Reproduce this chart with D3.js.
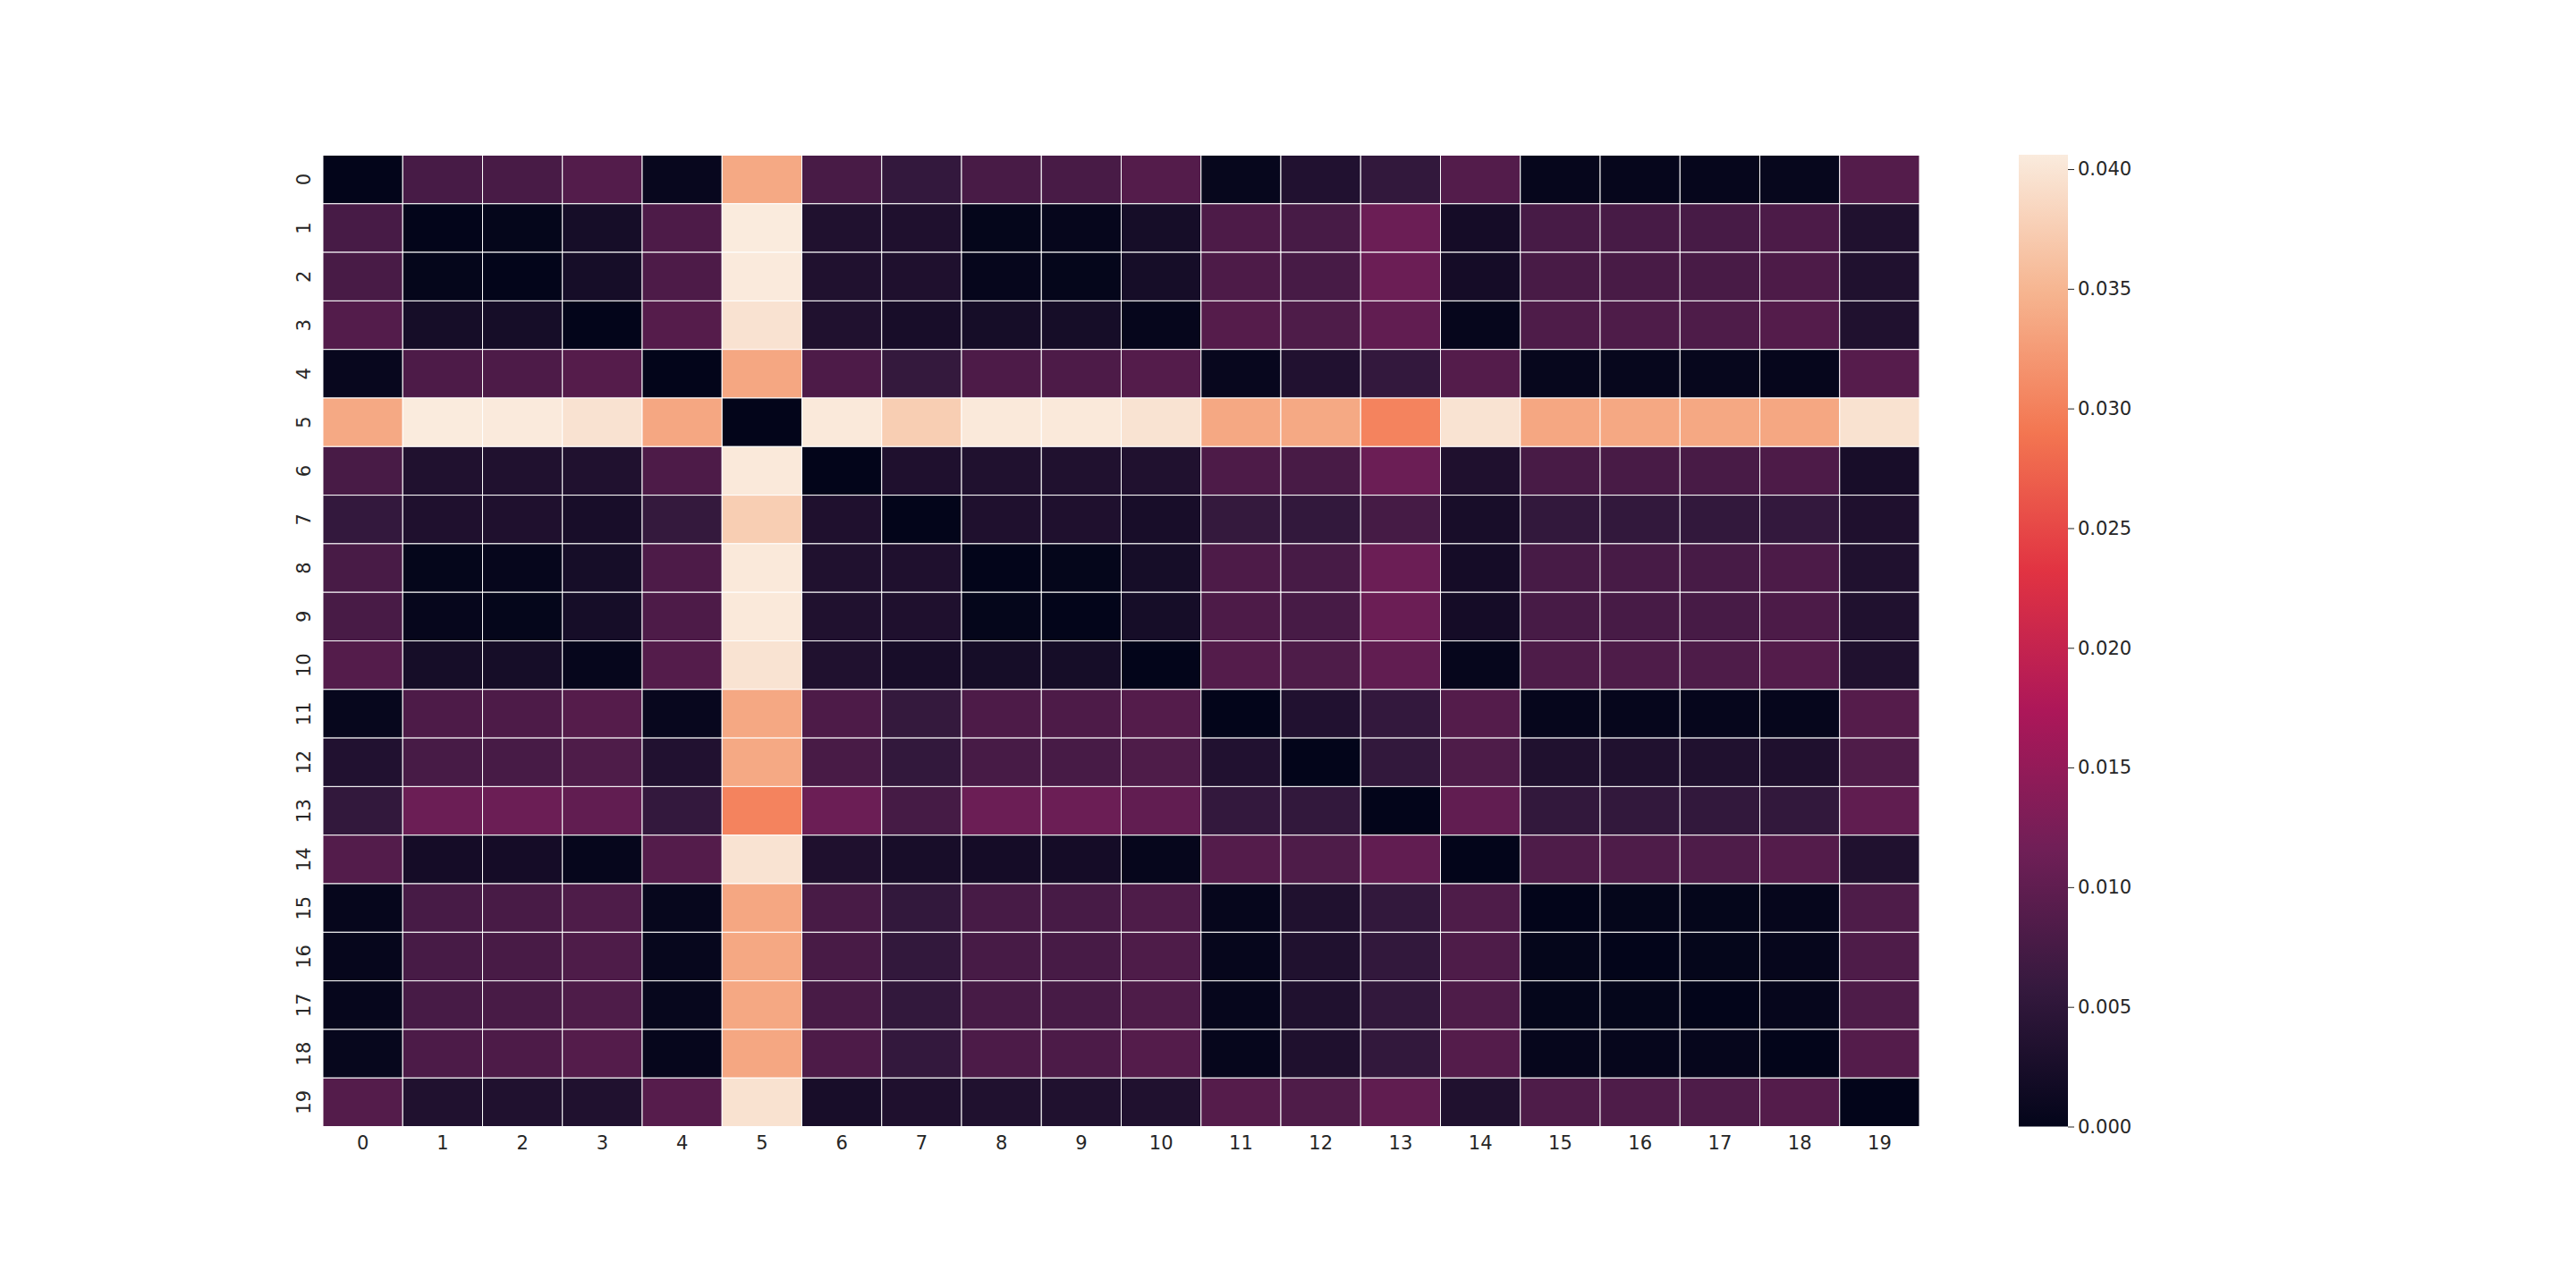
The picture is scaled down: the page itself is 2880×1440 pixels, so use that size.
<!DOCTYPE html>
<html>
<head>
<meta charset="utf-8">
<script src="https://cdn.jsdelivr.net/npm/d3@7"></script>
<style>
body { margin: 0; background: #fff; }
text { font-family: "DejaVu Sans", sans-serif; }
</style>
</head>
<body>
<svg id="chart" width="2880" height="1440"></svg>
<script>
// labels for both axes
const labels = ["0","1","2","3","4","5","6","7","8","9","10","11","12","13","14","15","16","17","18","19"];

// pairwise values (symmetric, zero diagonal)
const values = [
  [0, .0076, .0077, .0087, .0006, .0338, .0077, .0056, .0077, .0077, .0088, .0005, .0035, .0055, .0087, .0003, .0003, .0004, .0005, .0088],
  [.0076, 0, .0002, .0022, .0082, .0406, .0034, .0033, .0002, .0003, .0022, .0082, .0076, .0111, .0021, .0076, .0076, .0076, .0081, .0034],
  [.0077, .0002, 0, .0022, .0082, .0405, .0034, .0033, .0003, .0002, .0022, .0082, .0076, .0111, .0021, .0077, .0077, .0077, .0082, .0034],
  [.0087, .0022, .0022, 0, .0089, .0397, .0034, .0024, .0022, .0022, .0004, .0089, .0083, .0101, .0004, .0083, .0083, .0083, .0088, .0034],
  [.0006, .0082, .0082, .0089, 0, .0336, .0082, .0057, .0082, .0082, .0088, .0006, .0035, .0056, .0088, .0005, .0005, .0005, .0004, .0090],
  [.0338, .0406, .0405, .0397, .0336, 0, .0404, .0375, .0404, .0404, .0398, .0337, .0338, .0302, .0398, .0336, .0337, .0337, .0336, .0396],
  [.0077, .0034, .0034, .0034, .0082, .0404, 0, .0033, .0034, .0034, .0034, .0082, .0077, .0111, .0033, .0077, .0077, .0077, .0082, .0024],
  [.0056, .0033, .0033, .0024, .0057, .0375, .0033, 0, .0033, .0033, .0024, .0057, .0054, .0074, .0024, .0055, .0055, .0055, .0056, .0033],
  [.0077, .0002, .0003, .0022, .0082, .0404, .0034, .0033, 0, .0002, .0022, .0082, .0076, .0111, .0021, .0076, .0076, .0076, .0081, .0034],
  [.0077, .0003, .0002, .0022, .0082, .0404, .0034, .0033, .0002, 0, .0022, .0082, .0076, .0111, .0021, .0076, .0076, .0076, .0081, .0034],
  [.0088, .0022, .0022, .0004, .0088, .0398, .0034, .0024, .0022, .0022, 0, .0088, .0083, .0101, .0004, .0083, .0083, .0083, .0088, .0034],
  [.0005, .0082, .0082, .0089, .0006, .0337, .0082, .0057, .0082, .0082, .0088, 0, .0035, .0056, .0088, .0004, .0004, .0004, .0004, .0089],
  [.0035, .0076, .0076, .0083, .0035, .0338, .0077, .0054, .0076, .0076, .0083, .0035, 0, .0055, .0083, .0034, .0034, .0034, .0033, .0084],
  [.0055, .0111, .0111, .0101, .0056, .0302, .0111, .0074, .0111, .0111, .0101, .0056, .0055, 0, .0101, .0055, .0055, .0055, .0055, .0100],
  [.0087, .0021, .0021, .0004, .0088, .0398, .0033, .0024, .0021, .0021, .0004, .0088, .0083, .0101, 0, .0083, .0083, .0083, .0088, .0034],
  [.0003, .0076, .0077, .0083, .0005, .0336, .0077, .0055, .0076, .0076, .0083, .0004, .0034, .0055, .0083, 0, .0002, .0002, .0003, .0083],
  [.0003, .0076, .0077, .0083, .0005, .0337, .0077, .0055, .0076, .0076, .0083, .0004, .0034, .0055, .0083, .0002, 0, .0002, .0003, .0083],
  [.0004, .0076, .0077, .0083, .0005, .0337, .0077, .0055, .0076, .0076, .0083, .0004, .0034, .0055, .0083, .0002, .0002, 0, .0003, .0083],
  [.0005, .0081, .0082, .0088, .0004, .0336, .0082, .0056, .0081, .0081, .0088, .0004, .0033, .0055, .0088, .0003, .0003, .0003, 0, .0088],
  [.0088, .0034, .0034, .0034, .0090, .0396, .0024, .0033, .0034, .0034, .0034, .0089, .0084, .0100, .0034, .0083, .0083, .0083, .0088, 0]
];

const cbarTicks = [0, 0.005, 0.010, 0.015, 0.020, 0.025, 0.030, 0.035, 0.040];

// seaborn "rocket" colours, evenly spaced
const rocket = ["#03051a", "#35193e", "#701f57", "#ad1759", "#e13342", "#f37651", "#f6b48f", "#faebdd"];

const vmin = 0, vmax = d3.max(values, r => d3.max(r));
const textColor = "#262626";

const svg = d3.select("#chart");
const plotLeft = 361, plotRight = 2146, plotTop = 173.5, plotBottom = 1259.5;

const x = d3.scaleBand().domain(labels).range([plotLeft, plotRight]).padding(0);
const y = d3.scaleBand().domain(labels).range([plotTop, plotBottom]).padding(0);

const color = d3.scaleLinear()
  .domain(rocket.map((c, i) => vmin + (vmax - vmin) * i / (rocket.length - 1)))
  .range(rocket)
  .interpolate(d3.interpolateRgb)
  .clamp(true);

const cells = [];
values.forEach((row, i) => row.forEach((v, j) => cells.push({row: labels[i], col: labels[j], v: v})));

svg.append("g").selectAll("rect")
  .data(cells)
  .enter().append("rect")
    .attr("x", d => x(d.col))
    .attr("y", d => y(d.row))
    .attr("width", x.bandwidth())
    .attr("height", y.bandwidth())
    .attr("fill", d => color(d.v))
    .attr("stroke", "#fff")
    .attr("stroke-width", 1);

// x axis
const gx = svg.append("g")
  .attr("transform", `translate(0,${plotBottom})`)
  .call(d3.axisBottom(x).tickSize(0).tickPadding(11));
gx.select(".domain").remove();
gx.selectAll("text").style("font-size", "21px").attr("fill", textColor);

// y axis, labels turned
const gy = svg.append("g")
  .attr("transform", `translate(${plotLeft},0)`)
  .call(d3.axisLeft(y).tickSize(0));
gy.select(".domain").remove();
gy.selectAll("text")
  .style("font-size", "21px")
  .attr("fill", textColor)
  .attr("x", 0)
  .attr("dy", 0)
  .attr("text-anchor", "middle")
  .attr("transform", "translate(-14,0) rotate(-90)");

// colorbar
const cbX = 2257, cbW = 55;
const cy = d3.scaleLinear().domain([vmin, vmax]).range([plotBottom, 173]);

const grad = svg.append("defs").append("linearGradient")
  .attr("id", "cbgrad")
  .attr("x1", 0).attr("y1", 1).attr("x2", 0).attr("y2", 0);
grad.selectAll("stop")
  .data(rocket)
  .enter().append("stop")
    .attr("offset", (c, i) => i / (rocket.length - 1))
    .attr("stop-color", c => c);

svg.append("rect")
  .attr("x", cbX)
  .attr("y", cy(vmax))
  .attr("width", cbW)
  .attr("height", cy(vmin) - cy(vmax))
  .attr("fill", "url(#cbgrad)");

const gc = svg.append("g")
  .attr("transform", `translate(${cbX + cbW},0)`)
  .call(d3.axisRight(cy).tickValues(cbarTicks).tickFormat(d3.format(".3f")).tickSize(7).tickPadding(4));
gc.select(".domain").remove();
gc.selectAll("line").attr("stroke", textColor);
gc.selectAll("text").style("font-size", "21px").attr("fill", textColor);
</script>
</body>
</html>
